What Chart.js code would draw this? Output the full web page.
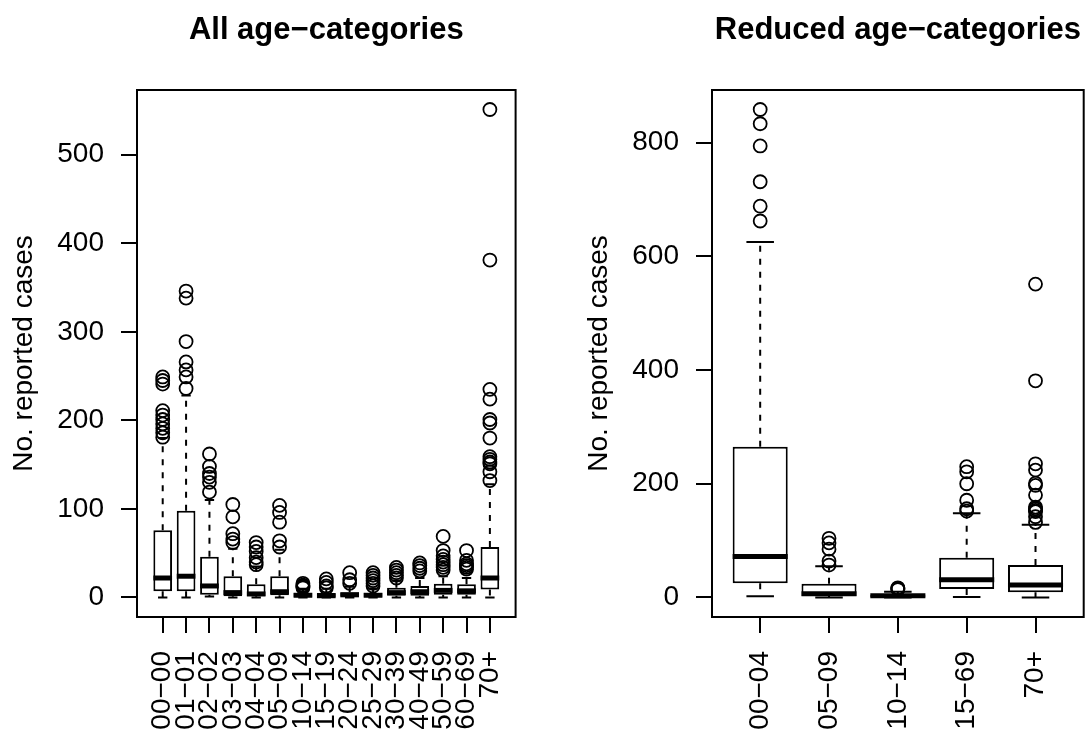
<!DOCTYPE html>
<html><head><meta charset="utf-8">
<script src="https://cdn.jsdelivr.net/npm/chart.js@4/dist/chart.umd.min.js"></script>
<style>
html,body{margin:0;padding:0;background:#fff;}
#wrap{position:relative;width:1092px;height:729px;overflow:hidden;background:#fff;}
.panel{position:absolute;top:0;height:729px;width:546px;}
</style></head><body>
<div id="wrap">
<div class="panel" style="left:0"><canvas id="c1"></canvas></div>
<div class="panel" style="left:546px"><canvas id="c2"></canvas></div>
</div>
<script>
// ---- Left panel: all age categories ----
const allCategories = ["00−00","01−01","02−02","03−03","04−04","05−09","10−14","15−19","20−24","25−29","30−39","40−49","50−59","60−69","70+"];
const allLowerWhisker = [0, 0, 1, 0, 0, 0, 0, 0, 0, 0, 0, 0, 0, 0, 0];
const allQ1 = [7, 7, 3, 1.5, 1.5, 2.5, 0.5, 0.5, 1, 0.5, 2, 2, 3, 3, 9];
const allMedian = [22, 24, 13, 5.5, 4, 6.5, 2.5, 2, 3, 2.5, 5.5, 6.5, 8, 7.5, 22];
const allQ3 = [76, 98, 46, 24, 15, 24, 5, 5, 6, 5, 11, 13, 15.5, 15, 57];
const allUpperWhisker = [180, 228, 110, 55, 35, 54, 10, 10, 12, 10, 19, 22, 24, 22, 128];
const allOutliers = [
  [249, 245, 241, 211, 206, 201, 196, 191, 186, 181],
  [346, 338, 289, 266, 257, 249, 236],
  [162, 148, 140, 136, 130, 119],
  [105, 91, 72, 66, 62],
  [62, 57, 52, 45, 40, 37],
  [104, 96, 85, 64, 57],
  [16, 14, 13, 12, 11],
  [21, 17, 13, 11],
  [28, 20, 16],
  [28, 25, 22, 19, 16, 13],
  [34, 31, 28, 25, 22],
  [39, 36, 33, 30],
  [69, 53, 47, 43, 40, 37, 34, 31],
  [53, 42, 38, 36, 34, 32],
  [551, 381, 235, 224, 201, 197, 180, 159, 156, 153, 151, 142, 132]
];
const allYTicks = [0, 100, 200, 300, 400, 500];

// ---- Right panel: reduced age categories ----
const redCategories = ["00−04","05−09","10−14","15−69","70+"];
const redLowerWhisker = [2, 0, 0, 1, 0];
const redQ1 = [25, 2.5, 1, 15, 9];
const redMedian = [72, 6.5, 3, 31, 22];
const redQ3 = [265, 24, 5, 70, 57];
const redUpperWhisker = [625, 55, 10, 148, 128];
const redOutliers = [
  [858, 833, 794, 731, 688, 662],
  [104, 96, 85, 64, 57],
  [17, 16, 15, 14],
  [230, 221, 200, 171, 156, 152],
  [551, 381, 235, 224, 201, 197, 180, 159, 156, 153, 151, 142, 132]
];
const redYTicks = [0, 200, 400, 600, 800];

const FONT = "'Liberation Sans', Arial, Helvetica, sans-serif";
const LW = 2;

const boxPlugin = {
  id: 'boxExtras',
  beforeDatasetsDraw(chart) {
    const st = chart.options.plugins.boxExtras;
    const {ctx, scales: {x, y}} = chart;
    ctx.save();
    ctx.strokeStyle = '#000';
    ctx.lineWidth = LW;
    for (let i = 0; i < st.cats.length; i++) {
      const cx = x.getPixelForValue(i + 1);
      const half = x.getPixelForValue(i + 1 + 0.4) - cx;
      const cap = half / 2;
      const yq1 = y.getPixelForValue(st.q1[i]), yq3 = y.getPixelForValue(st.q3[i]);
      const ylw = y.getPixelForValue(st.lw[i]), yuw = y.getPixelForValue(st.uw[i]);
      ctx.setLineDash([6, 7]);
      ctx.beginPath();
      ctx.moveTo(cx, yq3); ctx.lineTo(cx, yuw);
      ctx.moveTo(cx, yq1); ctx.lineTo(cx, ylw);
      ctx.stroke();
      ctx.setLineDash([]);
      ctx.beginPath();
      ctx.moveTo(cx - cap, yuw); ctx.lineTo(cx + cap, yuw);
      ctx.moveTo(cx - cap, ylw); ctx.lineTo(cx + cap, ylw);
      ctx.stroke();
    }
    ctx.restore();
  },
  afterDatasetsDraw(chart) {
    const st = chart.options.plugins.boxExtras;
    const {ctx, chartArea, scales: {x, y}} = chart;
    ctx.save();
    ctx.strokeStyle = '#000';
    ctx.lineWidth = 5;
    ctx.lineCap = 'butt';
    for (let i = 0; i < st.cats.length; i++) {
      const cx = x.getPixelForValue(i + 1);
      const half = x.getPixelForValue(i + 1 + 0.4) - cx;
      const ym = y.getPixelForValue(st.med[i]);
      ctx.beginPath();
      ctx.moveTo(cx - half, ym); ctx.lineTo(cx + half, ym);
      ctx.stroke();
    }
    ctx.lineWidth = LW;
    ctx.strokeRect(chartArea.left, chartArea.top, chartArea.right - chartArea.left, chartArea.bottom - chartArea.top);
    ctx.restore();
  }
};

function makeChart(id, cats, lw, q1, med, q3, uw, outl, yTicks, title, padLeft, padRight) {
  const flatOut = outl.flat();
  const mx = Math.max(...uw, ...flatOut);
  const mn = Math.min(...lw, ...flatOut);
  const ext = (mx - mn) * 0.04;
  const n = cats.length;
  const xext = n * 0.04;
  const tickFont = {family: FONT, size: 28};
  const gridOpts = {display: true, offset: false, drawOnChartArea: false, drawTicks: true, tickLength: 16, color: '#000', lineWidth: LW};
  const outData = [];
  outl.forEach((arr, i) => arr.forEach(v => outData.push({x: i + 1, y: v})));
  return new Chart(document.getElementById(id), {
    type: 'bar',
    data: {
      datasets: [
        {
          type: 'bar',
          data: cats.map((c, i) => ({x: i + 1, y: [q1[i], q3[i]]})),
          backgroundColor: '#fff', borderColor: '#000', borderWidth: LW,
          borderSkipped: false, categoryPercentage: 0.8, barPercentage: 1.0
        },
        {
          type: 'scatter',
          data: outData,
          pointRadius: 6.5, pointHoverRadius: 6.5, pointBorderWidth: 1.8,
          borderColor: '#000', backgroundColor: 'rgba(0,0,0,0)',
          pointBackgroundColor: 'rgba(0,0,0,0)', pointBorderColor: '#000', showLine: false
        }
      ]
    },
    options: {
      responsive: true, maintainAspectRatio: false, animation: false,
      events: [],
      layout: {padding: {left: padLeft, right: padRight, top: 0, bottom: 0}},
      plugins: {
        legend: {display: false},
        tooltip: {enabled: false},
        title: {display: true, text: title, fullSize: false, color: '#000',
                font: {family: FONT, size: 31, weight: 'bold'}, padding: {top: 11.4, bottom: 41.4}},
        boxExtras: {cats, lw, q1, med, q3, uw}
      },
      scales: {
        x: {
          type: 'linear', min: 0.5 - xext, max: n + 0.5 + xext, offset: false, bounds: 'data',
          afterBuildTicks: s => { s.ticks = cats.map((c, i) => ({value: i + 1})); },
          afterFit: s => { s.height = 112; },
          ticks: {callback: v => cats[Math.round(v) - 1], minRotation: 90, maxRotation: 90,
                  autoSkip: false, padding: 18, font: tickFont, color: '#000'},
          grid: gridOpts, border: {display: false}
        },
        y: {
          type: 'linear', min: mn - ext, max: mx + ext, bounds: 'data',
          afterBuildTicks: s => { s.ticks = yTicks.map(v => ({value: v})); },
          afterFit: s => { s.width = 137; },
          ticks: {padding: 17, font: tickFont, color: '#000'},
          grid: gridOpts, border: {display: false},
          title: {display: true, text: 'No. reported cases', color: '#000', font: tickFont,
                  padding: {top: 7, bottom: 0}}
        }
      }
    },
    plugins: [boxPlugin]
  });
}

makeChart('c1', allCategories, allLowerWhisker, allQ1, allMedian, allQ3, allUpperWhisker, allOutliers,
          allYTicks, 'All age−categories', 0, 30.4);
makeChart('c2', redCategories, redLowerWhisker, redQ1, redMedian, redQ3, redUpperWhisker, redOutliers,
          redYTicks, 'Reduced age−categories', 29, 2);
</script>
</body></html>
